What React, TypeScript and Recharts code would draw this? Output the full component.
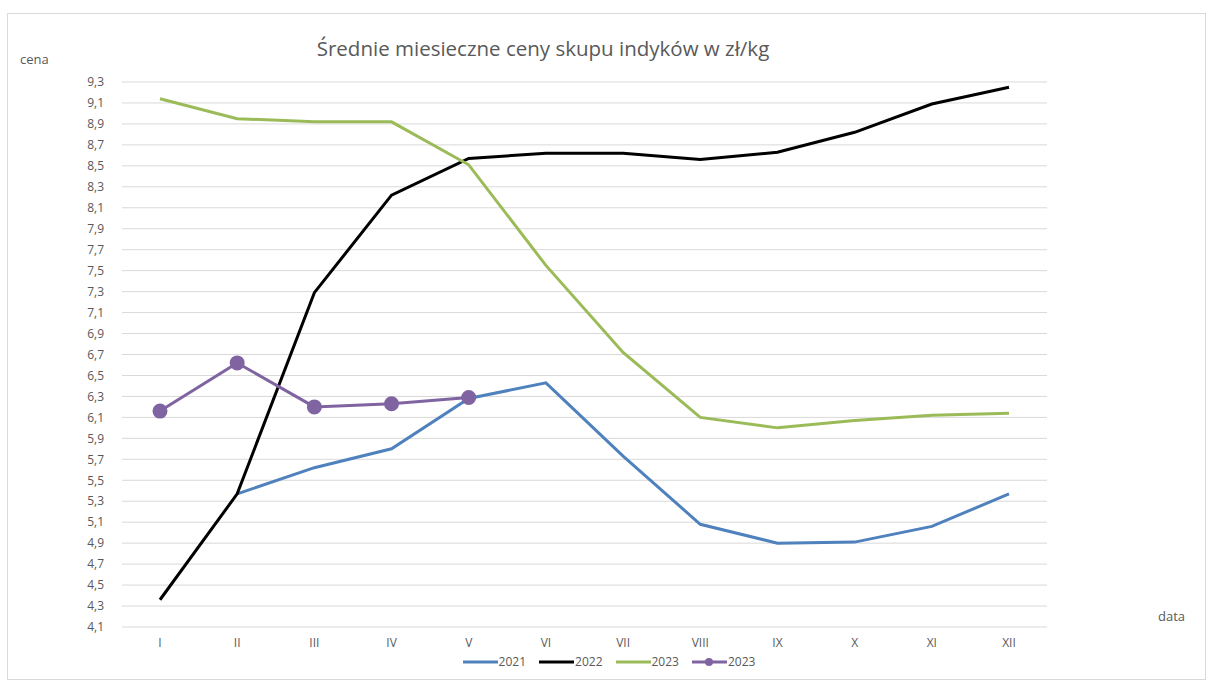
import { LineChart, Line, XAxis, YAxis, CartesianGrid, Legend } from "recharts";

const months = ["I", "II", "III", "IV", "V", "VI", "VII", "VIII", "IX", "X", "XI", "XII"];
const ceny2021 = [null, 5.37, 5.62, 5.8, 6.28, 6.43, 5.73, 5.08, 4.9, 4.91, 5.06, 5.37];
const ceny2022 = [4.36, 5.37, 7.29, 8.22, 8.57, 8.62, 8.62, 8.56, 8.63, 8.82, 9.09, 9.25];
const ceny2023 = [9.14, 8.95, 8.92, 8.92, 8.51, 7.55, 6.72, 6.1, 6.0, 6.07, 6.12, 6.14];
const ceny2023b = [6.16, 6.62, 6.2, 6.23, 6.29, null, null, null, null, null, null, null];
const yTicks = [
  4.1, 4.3, 4.5, 4.7, 4.9, 5.1, 5.3, 5.5, 5.7, 5.9, 6.1, 6.3, 6.5, 6.7,
  6.9, 7.1, 7.3, 7.5, 7.7, 7.9, 8.1, 8.3, 8.5, 8.7, 8.9, 9.1, 9.3,
];

const data = months.map((m, i) => ({
  m,
  a: ceny2021[i],
  b: ceny2022[i],
  c: ceny2023[i],
  d: ceny2023b[i],
}));

const font = "'Open Sans', 'Liberation Sans', sans-serif";

function LegendBox({ payload }: any) {
  return (
    <div
      style={{
        display: "flex",
        justifyContent: "center",
        gap: 12,
        paddingLeft: 170,
        fontFamily: font,
        fontSize: 12,
        color: "#595959",
      }}
    >
      {(payload || []).map((p: any) => (
        <div key={p.dataKey} style={{ display: "flex", alignItems: "center" }}>
          <svg width={37} height={10}>
            <line x1={1} y1={5} x2={36} y2={5} stroke={p.color} strokeWidth={3} />
            {p.dataKey === "d" && <circle cx={18} cy={5} r={4} fill={p.color} />}
          </svg>
          <span>{p.value}</span>
        </div>
      ))}
    </div>
  );
}

export default function App() {
  return (
    <div style={{ position: "absolute", left: 0, top: 0, width: 1206, height: 680, background: "#fff" }}>
      <div
        style={{
          position: "absolute",
          left: 7,
          top: 13,
          width: 1199,
          height: 667,
          border: "1px solid #d9d9d9",
          boxSizing: "border-box",
        }}
      />
      <div
        style={{
          position: "absolute",
          left: 0,
          width: 1086,
          top: 34,
          textAlign: "center",
          fontFamily: font,
          fontSize: 20.5,
          color: "#595959",
        }}
      >
        Średnie miesieczne ceny skupu indyków w zł/kg
      </div>
      <div style={{ position: "absolute", left: 20, top: 50, fontFamily: font, fontSize: 13, color: "#595959" }}>
        cena
      </div>
      <div style={{ position: "absolute", left: 1158, top: 607, fontFamily: font, fontSize: 13, color: "#595959" }}>
        data
      </div>
      <LineChart width={1206} height={680} data={data} margin={{ top: 82, right: 159, left: 0, bottom: 2 }}>
        <CartesianGrid vertical={false} stroke="#d9d9d9" />
        <XAxis
          dataKey="m"
          padding={{ left: 38, right: 38 }}
          axisLine={false}
          tickLine={false}
          height={26}
          tickMargin={5}
          tick={{ fill: "#595959", fontSize: 12, fontFamily: font }}
        />
        <YAxis
          width={122}
          domain={[4.1, 9.3]}
          ticks={yTicks}
          interval={0}
          axisLine={false}
          tickLine={false}
          tickFormatter={(v) => v.toFixed(1).replace(".", ",")}
          tick={{ fill: "#595959", fontSize: 12, fontFamily: font }}
          tickMargin={12}
        />
        <Legend verticalAlign="bottom" height={25} content={<LegendBox />} />
        <Line dataKey="a" name="2021" stroke="#4f81bd" strokeWidth={3} dot={false} isAnimationActive={false} />
        <Line dataKey="b" name="2022" stroke="#000000" strokeWidth={3} dot={false} isAnimationActive={false} />
        <Line dataKey="c" name="2023" stroke="#9bbb59" strokeWidth={3} dot={false} isAnimationActive={false} />
        <Line
          dataKey="d"
          name="2023"
          stroke="#8064a2"
          strokeWidth={3}
          dot={{ r: 6, fill: "#8064a2", stroke: "#8064a2" }}
          isAnimationActive={false}
        />
      </LineChart>
    </div>
  );
}
